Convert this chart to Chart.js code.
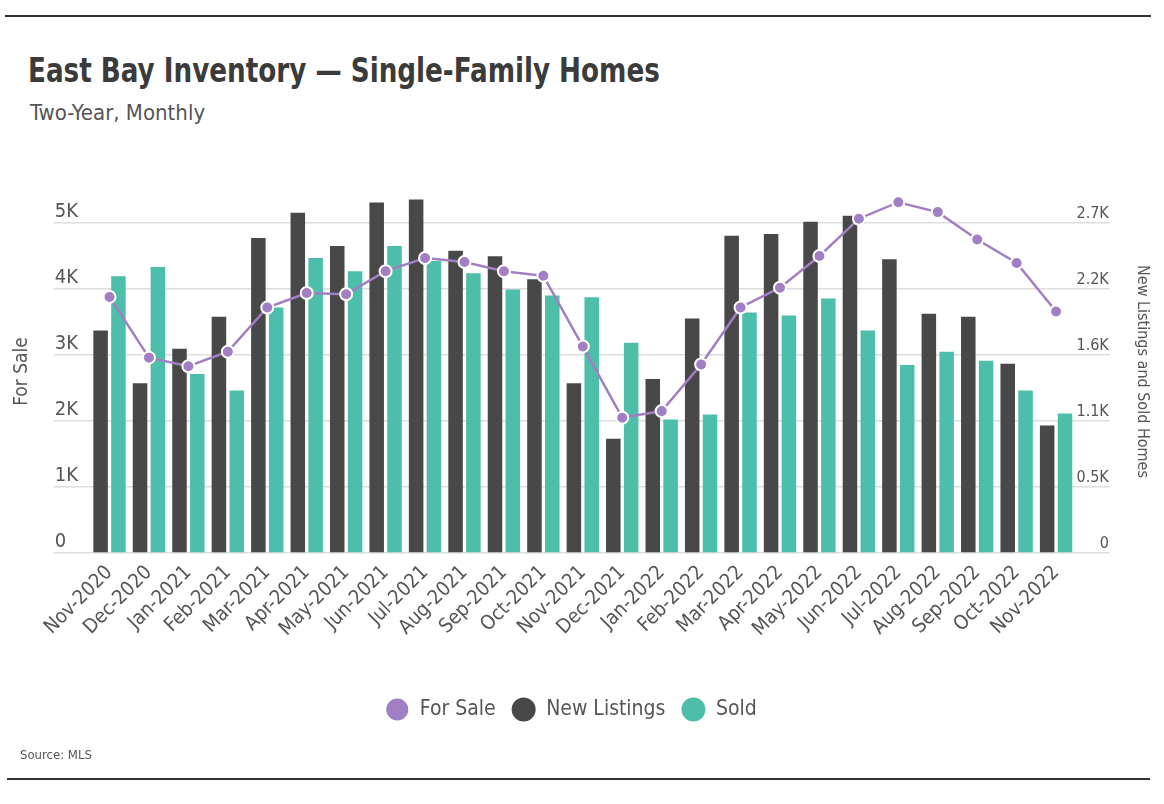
<!DOCTYPE html>
<html>
<head>
<meta charset="utf-8">
<script src="https://cdn.jsdelivr.net/npm/chart.js@4.4.1/dist/chart.umd.min.js"></script>
<style>
  body { margin: 0; background: #fff; width: 1164px; height: 804px; position: relative; overflow: hidden;
         font-family: "Liberation Sans Narrow", "DejaVu Sans Condensed", sans-serif; }
  .rule { position: absolute; height: 2px; background: #333; }
  #title { position: absolute; left: 28px; top: 53px; font-size: 34px; line-height: 34px; font-weight: bold; color: #3b3b3b;
           white-space: nowrap; transform: scaleX(0.857); transform-origin: left top; }
  #subtitle { position: absolute; left: 30px; top: 102px; font-size: 22px; line-height: 22px; color: #555; white-space: nowrap; }
  #source { position: absolute; left: 20px; top: 748px; font-size: 13px; line-height: 13px; color: #555; }
  #wrap { position: absolute; left: 0; top: 170px; width: 1164px; height: 590px; }
</style>
</head>
<body>
<div class="rule" style="left:5px; top:15px; width:1146px;"></div>
<div id="title">East Bay Inventory — Single-Family Homes</div>
<div id="subtitle">Two-Year, Monthly</div>
<div id="wrap"><canvas id="inventoryChart"></canvas></div>
<div id="source">Source: MLS</div>
<div class="rule" style="left:7px; top:778px; width:1143px;"></div>

<script>
const FONT = '"Liberation Sans Narrow", "DejaVu Sans Condensed", sans-serif';

const months = ['Nov-2020', 'Dec-2020', 'Jan-2021', 'Feb-2021', 'Mar-2021', 'Apr-2021', 'May-2021',
    'Jun-2021', 'Jul-2021', 'Aug-2021', 'Sep-2021', 'Oct-2021', 'Nov-2021', 'Dec-2021', 'Jan-2022',
    'Feb-2022', 'Mar-2022', 'Apr-2022', 'May-2022', 'Jun-2022', 'Jul-2022', 'Aug-2022', 'Sep-2022',
    'Oct-2022', 'Nov-2022'];

// left axis
const forSale = [3880, 2960, 2830, 3050, 3720, 3940, 3920, 4270, 4470, 4410, 4270, 4200, 3130,
    2050, 2150, 2855, 3720, 4020, 4500, 5065, 5315, 5165, 4750, 4395, 3660];

// right axis
const newListings = [1840, 1405, 1690, 1955, 2605, 2815, 2540, 2900, 2925, 2500, 2455, 2265, 1405,
    945, 1440, 1940, 2625, 2640, 2740, 2790, 2430, 1980, 1955, 1565, 1055];
const sold = [2290, 2365, 1480, 1345, 2030, 2440, 2330, 2540, 2415, 2315, 2180, 2130, 2115,
    1740, 1105, 1145, 1990, 1965, 2105, 1840, 1555, 1665, 1590, 1345, 1155];

const leftTicks = [0, 1000, 2000, 3000, 4000, 5000];
const rightTicks = [0, 546, 1092, 1638, 2184, 2730];

// tick labels sit on top of the grid lines, like the original
const tickLabelPlugin = {
    id: 'tickLabels',
    afterLayout(chart) {
        // legend sits a bit left of the canvas centre in the original
        if (chart.legend) {
            chart.legend.left -= 10;
            chart.legend.right -= 10;
        }
    },
    afterDraw(chart) {
        const ctx = chart.ctx;
        const y = chart.scales.y;
        const y1 = chart.scales.y1;
        ctx.save();
        ctx.fillStyle = '#555';
        ctx.textBaseline = 'alphabetic';
        ctx.font = '20px ' + FONT;
        ctx.textAlign = 'left';
        y.ticks.forEach(t => {
            const txt = t.value === 0 ? '0' : (t.value / 1000) + 'K';
            ctx.fillText(txt, chart.chartArea.left - 35, y.getPixelForValue(t.value) - 6);
        });
        ctx.font = '16px ' + FONT;
        ctx.textAlign = 'right';
        y1.ticks.forEach(t => {
            const txt = t.value === 0 ? '0' : (t.value / 1000).toFixed(1) + 'K';
            ctx.fillText(txt, chart.chartArea.right + 33, y1.getPixelForValue(t.value) - 5);
        });
        ctx.restore();
    }
};

const ctx = document.getElementById('inventoryChart').getContext('2d');
new Chart(ctx, {
    type: 'bar',
    data: {
        labels: months,
        datasets: [{
            type: 'line',
            label: 'For Sale',
            data: forSale,
            yAxisID: 'y',
            borderColor: '#a27fc4',
            backgroundColor: '#a27fc4',
            borderWidth: 2.5,
            pointRadius: 6,
            pointHoverRadius: 6,
            pointBackgroundColor: '#a27fc4',
            pointBorderColor: '#fff',
            pointBorderWidth: 2,
            tension: 0,
            order: 0
        }, {
            label: 'New Listings',
            data: newListings,
            yAxisID: 'y1',
            backgroundColor: '#484848',
            barPercentage: 0.815,
            categoryPercentage: 0.904,
            order: 1
        }, {
            label: 'Sold',
            data: sold,
            yAxisID: 'y1',
            backgroundColor: '#4dbea9',
            barPercentage: 0.815,
            categoryPercentage: 0.904,
            order: 1
        }]
    },
    options: {
        responsive: true,
        maintainAspectRatio: false,
        animation: false,
        layout: { padding: { left: 6, right: 8, top: 20, bottom: 30 } },
        plugins: {
            legend: {
                position: 'bottom',
                labels: {
                    usePointStyle: true,
                    pointStyle: 'circle',
                    pointStyleWidth: 24,
                    boxHeight: 17,
                    padding: 16,
                    color: '#555',
                    font: { family: FONT, size: 21 },
                    sort: (a, b) => a.datasetIndex - b.datasetIndex
                }
            },
            tooltip: { enabled: false }
        },
        scales: {
            x: {
                grid: { display: false, drawTicks: false },
                border: { display: false },
                ticks: {
                    autoSkip: false,
                    maxRotation: 45,
                    minRotation: 45,
                    padding: 8,
                    color: '#555',
                    font: { family: FONT, size: 20 }
                },
                afterFit: s => { s.height = 130; }
            },
            y: {
                position: 'left',
                min: 0,
                max: 5500,
                ticks: { display: false, stepSize: 1000 },
                afterBuildTicks: s => { s.ticks = leftTicks.map(v => ({ value: v })); },
                grid: { color: '#dddddd', lineWidth: 1.5, tickLength: 36 },
                border: { display: false },
                title: {
                    display: true,
                    text: 'For Sale',
                    color: '#555',
                    font: { family: FONT, size: 19 },
                    padding: { top: 5, bottom: 20 }
                }
            },
            y1: {
                position: 'right',
                min: 0,
                max: 3003,
                ticks: { display: false, stepSize: 546 },
                afterBuildTicks: s => { s.ticks = rightTicks.map(v => ({ value: v })); },
                grid: { drawOnChartArea: false, color: '#dddddd', lineWidth: 1.5, tickLength: 34 },
                border: { display: false },
                title: {
                    display: true,
                    text: 'New Listings and Sold Homes',
                    color: '#555',
                    font: { family: FONT, size: 16 },
                    padding: { top: 4, bottom: 23 }
                }
            }
        }
    },
    plugins: [tickLabelPlugin]
});
</script>
</body>
</html>
